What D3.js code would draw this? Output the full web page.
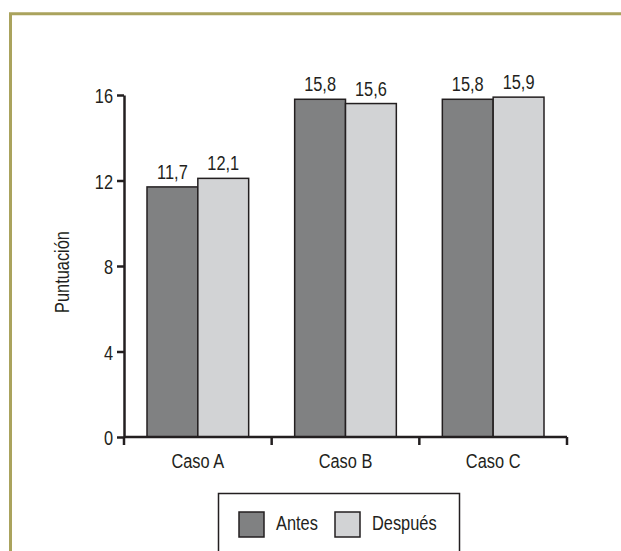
<!DOCTYPE html>
<html>
<head>
<meta charset="utf-8">
<script src="https://cdn.jsdelivr.net/npm/d3@7"></script>
<style>
  body { margin: 0; background: #fff; }
  text { font-family: "Liberation Sans", Arial, sans-serif; fill: #231f20; }
</style>
</head>
<body>
<div id="chart"></div>
<script>
// chart data
const categories = ["Caso A", "Caso B", "Caso C"];
const series = ["Antes", "Después"];
const antes = [11.7, 15.8, 15.8];
const despues = [12.1, 15.6, 15.9];
const yTicks = [0, 4, 8, 12, 16];

const colors = { "Antes": "#808182", "Después": "#d2d3d5" };
const narrow = 0.78; // no narrow font installed, squeeze the text instead
const fontSize = 21;

const width = 621, height = 551;

const svg = d3.select("#chart")
  .append("svg")
  .attr("width", width)
  .attr("height", height);

// helper: narrow text at a position
function label(g, x, y, txt, anchor) {
  return g.append("text")
    .attr("transform", `translate(${x},${y}) scale(${narrow},1)`)
    .attr("text-anchor", anchor || "start")
    .attr("font-size", fontSize)
    .text(txt);
}

// olive frame (top and left visible)
svg.append("path")
  .attr("d", "M10.5,560 L10.5,13.8 L640,13.8")
  .attr("fill", "none")
  .attr("stroke", "#aaa35d")
  .attr("stroke-width", 3);

// scales
const x = d3.scaleBand()
  .domain(categories)
  .range([124, 567])
  .padding(0);

const xSub = d3.scaleBand()
  .domain(series)
  .range([23, x.step() - 23]);

const y = d3.scaleLinear()
  .domain([0, 16])
  .range([437, 95]);

// rows for bars
const rows = [];
categories.forEach((c, i) => {
  rows.push({ cat: c, s: "Antes", v: antes[i] });
  rows.push({ cat: c, s: "Después", v: despues[i] });
});

// bars
svg.append("g")
  .selectAll("rect")
  .data(rows)
  .enter().append("rect")
  .attr("x", d => x(d.cat) + xSub(d.s))
  .attr("y", d => y(d.v))
  .attr("width", xSub.bandwidth())
  .attr("height", d => y(0) - y(d.v))
  .attr("fill", d => colors[d.s])
  .attr("stroke", "#231f20")
  .attr("stroke-width", 1.5);

// value labels
const vals = svg.append("g");
rows.forEach(d => {
  label(vals, x(d.cat) + xSub(d.s) + xSub.bandwidth() / 2, y(d.v) - 8,
    d.v.toFixed(1).replace(".", ","), "middle");
});

// y axis
const yAxis = svg.append("g")
  .attr("transform", "translate(124,0)")
  .call(d3.axisLeft(y).tickValues(yTicks).tickSize(7).tickSizeOuter(0).tickPadding(4));
yAxis.select(".domain").attr("stroke", "#231f20").attr("stroke-width", 2.5);
yAxis.selectAll(".tick line").attr("stroke", "#231f20").attr("stroke-width", 2.5);
yAxis.selectAll(".tick text").remove();
yAxis.selectAll(".tick").each(function(d) {
  label(d3.select(this), -11, 7.5, d, "end");
});

// x axis: baseline plus boundary ticks
const xEdges = categories.map(c => x(c)).concat([x.range()[1]]);
svg.append("line")
  .attr("x1", 124).attr("x2", 567)
  .attr("y1", y(0)).attr("y2", y(0))
  .attr("stroke", "#231f20").attr("stroke-width", 2.5);
svg.append("g")
  .selectAll("line")
  .data(xEdges)
  .enter().append("line")
  .attr("x1", d => d).attr("x2", d => d)
  .attr("y1", y(0)).attr("y2", y(0) + 8)
  .attr("stroke", "#231f20").attr("stroke-width", 2.5);

const catG = svg.append("g");
categories.forEach(c => label(catG, x(c) + x.bandwidth() / 2, 468, c, "middle"));

// y axis title
svg.append("text")
  .attr("transform", `translate(69,272) rotate(-90) scale(${narrow},1)`)
  .attr("text-anchor", "middle")
  .attr("font-size", fontSize)
  .text("Puntuación");

// legend
const legend = svg.append("g");
legend.append("rect")
  .attr("x", 218.5).attr("y", 493.5)
  .attr("width", 241).attr("height", 80)
  .attr("fill", "#fff")
  .attr("stroke", "#231f20")
  .attr("stroke-width", 1.5);

const legendX = [239, 335];
series.forEach((s, i) => {
  legend.append("rect")
    .attr("x", legendX[i]).attr("y", 512)
    .attr("width", 25).attr("height", 25)
    .attr("fill", colors[s])
    .attr("stroke", "#231f20")
    .attr("stroke-width", 1.5);
  label(legend, legendX[i] + 37, 530, s);
});
</script>
</body>
</html>
